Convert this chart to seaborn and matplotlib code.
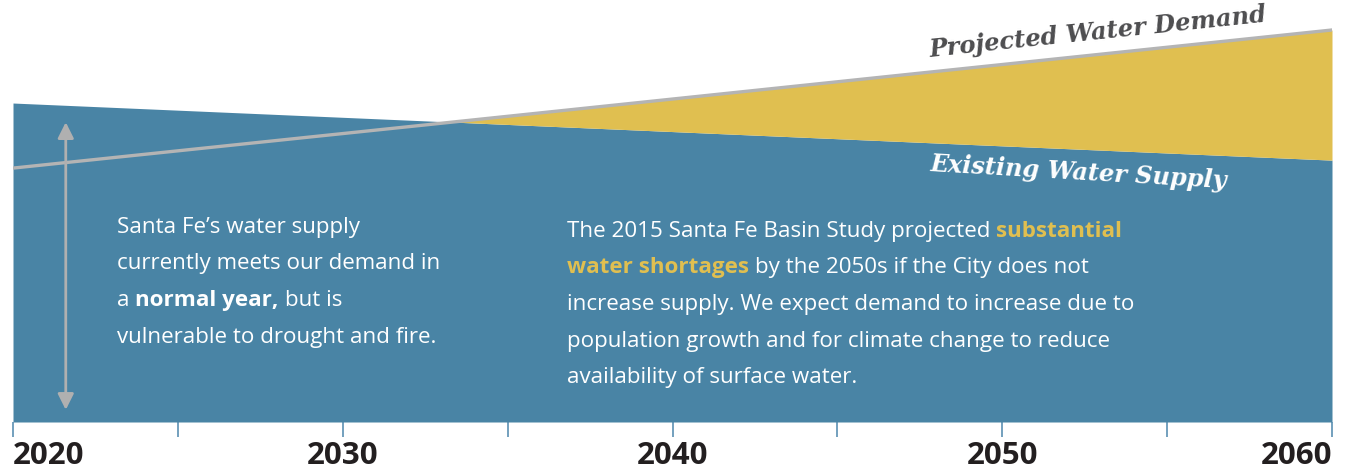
import numpy as np
import matplotlib
matplotlib.use("Agg")
import matplotlib.pyplot as plt
import seaborn as sns

# Data (index units)
years = [2020, 2060]
supply = [100.0, 82.1]      # existing water supply
demand = [79.6, 122.9]      # projected water demand
tick_years = [2020, 2030, 2040, 2050, 2060]
tick_labels = ["2020", "2030", "2040", "2050", "2060"]
minor_years = [2025, 2035, 2045, 2055]

BLUE = "#4984a5"
YELLOW = "#e0bf50"
GREY = "#b4b4b4"
TICK = "#5b90b3"
W, H = 1350, 470

sns.set_theme(style="white")
plt.rcParams["font.family"] = ["Open Sans", "DejaVu Sans"]

fig = plt.figure(figsize=(W / 100, H / 100), dpi=100)
ax = fig.add_axes([13 / W, 48 / H, 1319 / W, 422 / H])

x = np.array(years, dtype=float)
s = np.array(supply)
d = np.array(demand)

# supply area and shortage area
ax.fill_between(x, 0, s, color=BLUE, lw=0)
ax.fill_between(x, s, d, where=d > s, interpolate=True, color=YELLOW, lw=0)
sns.lineplot(x=years, y=demand, ax=ax, color=GREY, lw=2.4)

ax.set_xlim(2020, 2060)
ax.set_ylim(0, 132.3)
for sp in ax.spines.values():
    sp.set_visible(False)
ax.set_yticks([])
ax.set_ylabel("")
ax.set_xticks(tick_years)
ax.set_xticklabels(tick_labels)
ax.set_xticks(minor_years, minor=True)
ax.tick_params(axis="x", which="both", direction="out", length=11, width=1.2,
               color=TICK, bottom=True)
ax.tick_params(axis="x", which="major", pad=3, labelsize=22.5, labelcolor="#231f20")
for lab in ax.get_xticklabels():
    lab.set_fontweight("bold")
labs = ax.get_xticklabels()
labs[0].set_ha("left")
labs[-1].set_ha("right")

# double arrow on the left
ax.annotate("", xy=(2021.6, 94.0), xytext=(2021.6, 3.8),
            arrowprops=dict(arrowstyle="<|-|>", color="#b0b0b0", lw=2,
                            mutation_scale=24, shrinkA=0, shrinkB=0))


def fx(px):
    return px / W


def fy(py):
    return 1 - py / H


# series labels
fig.text(fx(930), fy(57), "Projected Water Demand", family="DejaVu Serif",
         style="italic", weight="bold", fontsize=17.5, color="#4d4d4f",
         rotation=6, rotation_mode="anchor", ha="left", va="baseline")
fig.text(fx(930), fy(171), "Existing Water Supply", family="DejaVu Serif",
         style="italic", weight="bold", fontsize=17.3, color="white",
         rotation=-3.3, rotation_mode="anchor", ha="left", va="baseline")

renderer = fig.canvas.get_renderer()
BODY = 16.1


def text_width(txt, weight):
    t = fig.text(0, 0, txt, fontsize=BODY, weight=weight)
    w = t.get_window_extent(renderer).width
    t.remove()
    return w


def rich_line(px, py, parts):
    for i, (txt, weight, color) in enumerate(parts):
        if i > 0:
            px += text_width("x x", weight) - text_width("xx", weight)
        t = fig.text(fx(px), fy(py), txt, fontsize=BODY, weight=weight,
                     color=color, ha="left", va="baseline")
        px += t.get_window_extent(renderer).width


left_lines = [
    [("Santa Fe’s water supply", "normal", "white")],
    [("currently meets our demand in", "normal", "white")],
    [("a", "normal", "white"), ("normal year,", "bold", "white"), ("but is", "normal", "white")],
    [("vulnerable to drought and fire.", "normal", "white")],
]
right_lines = [
    [("The 2015 Santa Fe Basin Study projected", "normal", "white"),
     ("substantial", "bold", YELLOW)],
    [("water shortages", "bold", YELLOW),
     ("by the 2050s if the City does not", "normal", "white")],
    [("increase supply. We expect demand to increase due to", "normal", "white")],
    [("population growth and for climate change to reduce", "normal", "white")],
    [("availability of surface water.", "normal", "white")],
]

for i, parts in enumerate(left_lines):
    rich_line(117, 233 + i * 36.5, parts)
for i, parts in enumerate(right_lines):
    rich_line(567, 237 + i * 36.5, parts)

fig.savefig("out.png", dpi=100)
